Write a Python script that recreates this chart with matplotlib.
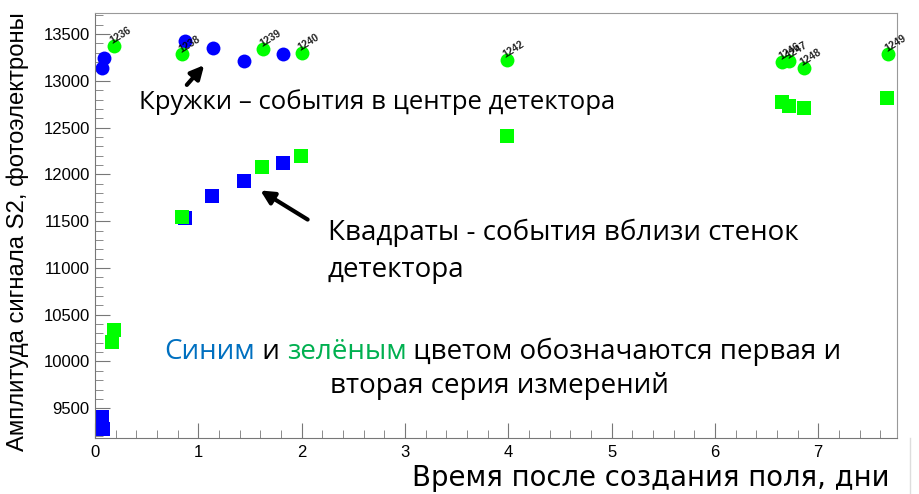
import matplotlib.pyplot as plt
import numpy as np
from matplotlib.ticker import MultipleLocator
from matplotlib.patches import FancyArrowPatch

# circles - events in the detector centre
blue_circ_t = [0.068, 0.09, 0.87, 1.14, 1.44, 1.82]
blue_circ_s2 = [13133, 13240, 13428, 13347, 13208, 13286]
green_circ_t = [0.18, 0.845, 1.63, 2.0, 3.985, 6.65, 6.72, 6.86, 7.68]
green_circ_s2 = [13375, 13283, 13343, 13300, 13222, 13204, 13214, 13136, 13286]
run_labels = ['1236', '1238', '1239', '1240', '1242', '1246', '1247', '1248', '1249']

# squares - events near the walls
blue_sq_t = [0.065, 0.08, 0.87, 1.136, 1.44, 1.82]
blue_sq_s2 = [9407, 9275, 11535, 11767, 11931, 12124]
green_sq_t = [0.168, 0.184, 0.845, 1.62, 1.99, 3.985, 6.65, 6.72, 6.86, 7.67]
green_sq_s2 = [10203, 10334, 11546, 12081, 12195, 12415, 12770, 12730, 12705, 12812]

W, H = 919, 494
fig = plt.figure(figsize=(W/100, H/100), dpi=100)
ax = fig.add_axes([94.5/W, 1-438.3/H, (896.7-94.5)/W, (438.3-13)/H])

def px(x, y):
    return x/W, 1-y/H

ax.plot(blue_circ_t, blue_circ_s2, 'o', color='#0000ff', ms=10, mew=0)
ax.plot(green_circ_t, green_circ_s2, 'o', color='#00ff00', ms=10, mew=0)
ax.plot(blue_sq_t, blue_sq_s2, 's', color='#0000ff', ms=10.5, mew=0)
ax.plot(green_sq_t, green_sq_s2, 's', color='#00ff00', ms=10.5, mew=0)
for t, s, lab in zip(green_circ_t, green_circ_s2, run_labels):
    ax.text(t, s, lab, fontsize=7.5, rotation=32, ha='left', va='bottom',
            rotation_mode='anchor', family='Liberation Sans', color='black',
            fontweight='bold', alpha=0.85)

ax.set_xlim(-0.005, 7.76)
ax.set_ylim(9179, 13725)
ax.xaxis.set_major_locator(MultipleLocator(1))
ax.xaxis.set_minor_locator(MultipleLocator(0.2))
ax.yaxis.set_major_locator(MultipleLocator(500))
ax.yaxis.set_minor_locator(MultipleLocator(100))
ax.tick_params(which='both', direction='in', color='#777777', labelsize=12,
               top=False, right=False)
ax.tick_params(which='major', length=11)
ax.tick_params(which='minor', length=6)
ax.tick_params(axis='x', pad=5)
for lab in ax.get_xticklabels() + ax.get_yticklabels():
    lab.set_family('Liberation Sans')
for sp in ax.spines.values():
    sp.set_color('#999999')
ax.spines['left'].set_color('#777777')
ax.spines['bottom'].set_color('#777777')

fig.text(*px(18, 232), 'Амплитуда сигнала S2, фотоэлектроны', rotation=90,
         ha='center', va='center', fontsize=17.2, family='Liberation Sans')
fig.text(*px(890, 478), 'Время после создания поля, дни', ha='right',
         va='center', fontsize=19.8, family='DejaVu Sans')

sans = 'Open Sans'
fs = 20
fig.text(*px(139, 102), 'Кружки – события в центре детектора', ha='left',
         va='center', fontsize=18.5, family=sans)
fig.text(*px(328, 233), 'Квадраты - события вблизи стенок', ha='left',
         va='center', fontsize=fs, family=sans)
fig.text(*px(328, 270), 'детектора', ha='left', va='center', fontsize=fs,
         family=sans)

x0, y0 = px(164, 352)
t1 = fig.text(x0, y0, 'Синим', color='#0070c0', fontsize=fs, family=sans,
              va='center')
t2 = ax.annotate(' и ', xycoords=t1, xy=(1, 0.5), va='center', fontsize=fs,
                 family=sans, annotation_clip=False)
t3 = ax.annotate('зелёным', xycoords=t2, xy=(1, 0.5), va='center',
                 color='#00b050', fontsize=fs, family=sans,
                 annotation_clip=False)
ax.annotate(' цветом обозначаются первая и', xycoords=t3, xy=(1, 0.5),
            va='center', fontsize=fs, family=sans, annotation_clip=False)
fig.text(*px(330, 386), 'вторая серия измерений', ha='left', va='center',
         fontsize=fs, family=sans)

# arrows
fig.add_artist(FancyArrowPatch(
    px(185, 87), px(206, 63), transform=fig.transFigure, arrowstyle='-|>',
    mutation_scale=20, lw=3, color='black'))
fig.add_artist(FancyArrowPatch(
    px(310, 221), px(258, 189), transform=fig.transFigure, arrowstyle='-|>',
    mutation_scale=20, lw=3, color='black'))

fig.add_artist(plt.Line2D([910/W, 910/W], [0, 1-438/H], color='#dddddd', lw=1))

fig.savefig('out.png', dpi=100)
